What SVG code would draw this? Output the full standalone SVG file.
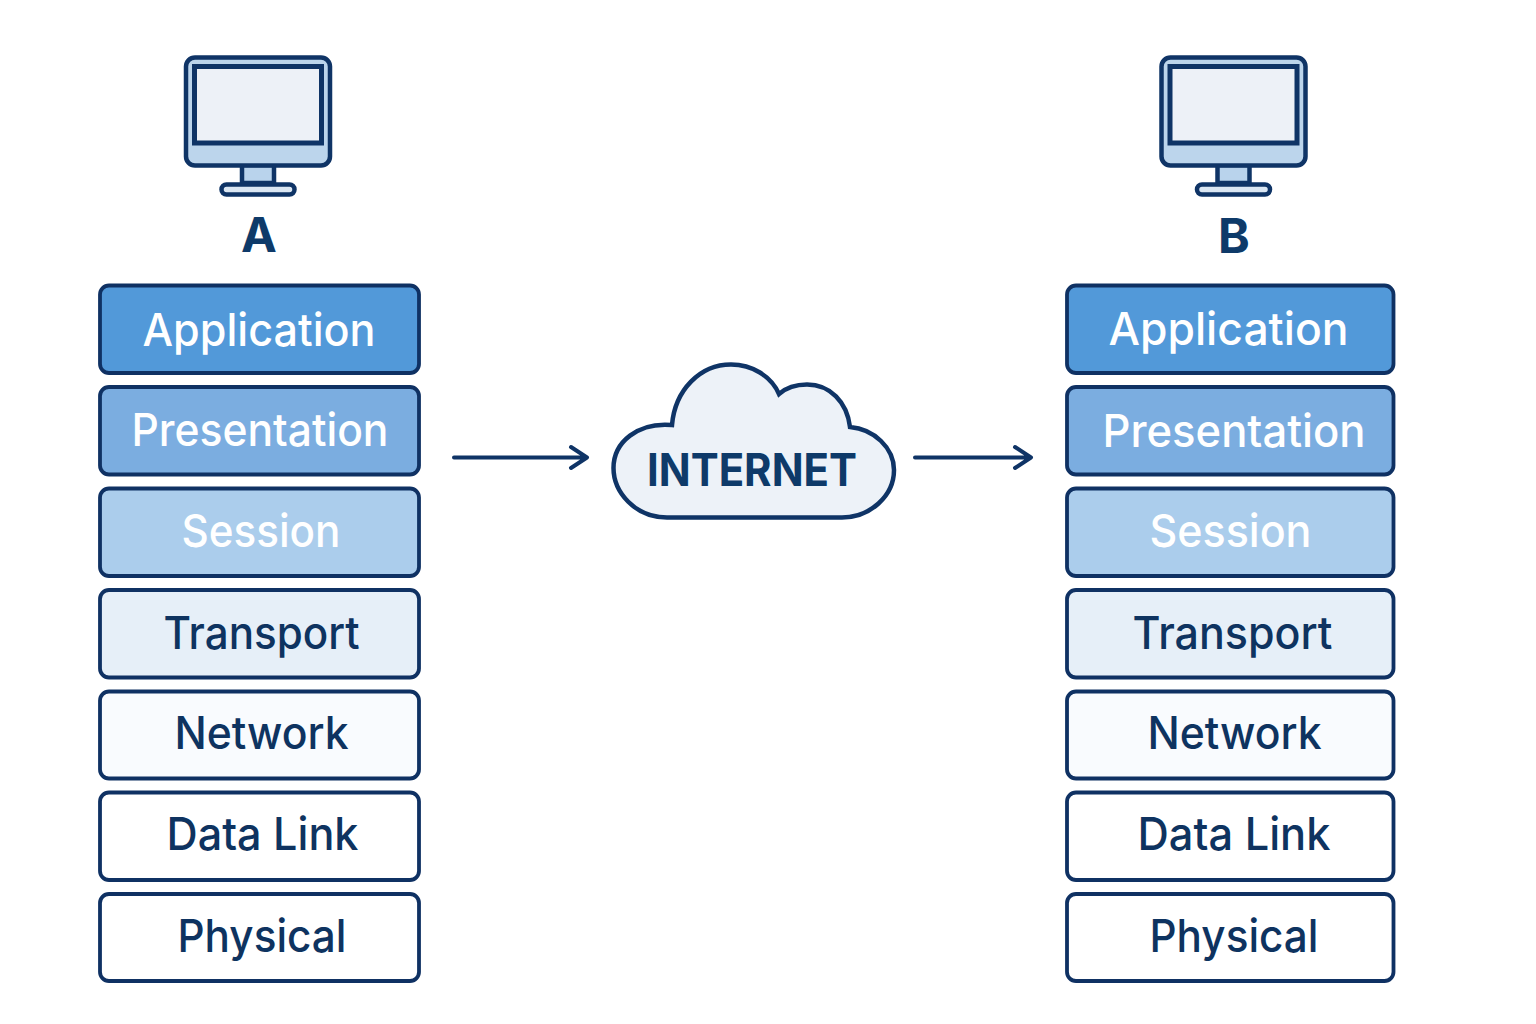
<svg xmlns="http://www.w3.org/2000/svg" width="1536" height="1024" viewBox="0 0 1536 1024">
<style>
.b{stroke:#0f3163;stroke-width:3.800}
.t{font-family:"Inter","Noto Sans",sans-serif;font-size:45px;font-weight:550;text-anchor:middle}
.w{fill:#fff}.d{fill:#0e3360}.s{fill:#edf2f8;stroke:#0f3466;stroke-width:4.500}
.h{font-family:"Inter","Noto Sans",sans-serif;font-weight:700;font-size:48px;fill:#0e3a69;text-anchor:middle}
.c{fill:none;stroke:#0f3466;stroke-width:4;stroke-linecap:round;stroke-linejoin:round}
</style>
<defs>
<g id="mon">
<rect x="242" y="165" width="32" height="18" fill="#b9d3ec" stroke="#0f3466" stroke-width="4.500"/>
<rect x="186" y="57.500" width="144" height="108" rx="9" fill="#bcd5ec" stroke="#0f3466" stroke-width="4.500"/>
<rect x="194.500" y="66.500" width="127" height="76.500" fill="#edf1f7" stroke="#0f3466" stroke-width="5"/>
<rect x="221.500" y="184.500" width="73" height="10" rx="5" fill="#dbe7f3" stroke="#0f3466" stroke-width="4.500"/>
</g>
</defs>
<rect width="1536" height="1024" fill="#fff"/>
<g id="host-a"><use href="#mon"/><text class="h" x="259" y="252">A</text></g>
<g id="host-b"><use href="#mon" x="975.500"/><text class="h" x="1234" y="253">B</text></g>
<g id="a-application"><rect class="b" x="100" y="285.500" width="319" height="87.500" rx="9" fill="#5299d9"/><text class="t w" x="259" y="346" textLength="233" lengthAdjust="spacingAndGlyphs">Application</text></g>
<g id="a-presentation"><rect class="b" x="100" y="387" width="319" height="87.500" rx="9" fill="#7bade0"/><text class="t w" x="260" y="446" textLength="257" lengthAdjust="spacingAndGlyphs">Presentation</text></g>
<g id="a-session"><rect class="b" x="100" y="488.500" width="319" height="87.500" rx="9" fill="#abcdec"/><text class="t w" x="261" y="547" textLength="159" lengthAdjust="spacingAndGlyphs">Session</text></g>
<g id="a-transport"><rect class="b" x="100" y="590" width="319" height="87.500" rx="9" fill="#e6eff8"/><text class="t d" x="261.500" y="649" textLength="196" lengthAdjust="spacingAndGlyphs">Transport</text></g>
<g id="a-network"><rect class="b" x="100" y="691.500" width="319" height="87" rx="9" fill="#f9fbfe"/><text class="t d" x="261.500" y="749" textLength="174" lengthAdjust="spacingAndGlyphs">Network</text></g>
<g id="a-datalink"><rect class="b" x="100" y="792.500" width="319" height="87.500" rx="9" fill="#fff"/><text class="t d" x="262.500" y="850" textLength="192" lengthAdjust="spacingAndGlyphs">Data Link</text></g>
<g id="a-physical"><rect class="b" x="100" y="894" width="319" height="87" rx="9" fill="#fff"/><text class="t d" x="262" y="952" textLength="169" lengthAdjust="spacingAndGlyphs">Physical</text></g>
<g id="b-application"><rect class="b" x="1067" y="285.500" width="326.500" height="87.500" rx="9" fill="#5299d9"/><text class="t w" x="1228.500" y="345" textLength="240" lengthAdjust="spacingAndGlyphs">Application</text></g>
<g id="b-presentation"><rect class="b" x="1067" y="387" width="326.500" height="87.500" rx="9" fill="#7bade0"/><text class="t w" x="1234" y="447" textLength="263" lengthAdjust="spacingAndGlyphs">Presentation</text></g>
<g id="b-session"><rect class="b" x="1067" y="488.500" width="326.500" height="87.500" rx="9" fill="#abcdec"/><text class="t w" x="1230.500" y="547" textLength="162" lengthAdjust="spacingAndGlyphs">Session</text></g>
<g id="b-transport"><rect class="b" x="1067" y="590" width="326.500" height="87.500" rx="9" fill="#e6eff8"/><text class="t d" x="1232.500" y="649" textLength="200" lengthAdjust="spacingAndGlyphs">Transport</text></g>
<g id="b-network"><rect class="b" x="1067" y="691.500" width="326.500" height="87" rx="9" fill="#f9fbfe"/><text class="t d" x="1234.500" y="749" textLength="174" lengthAdjust="spacingAndGlyphs">Network</text></g>
<g id="b-datalink"><rect class="b" x="1067" y="792.500" width="326.500" height="87.500" rx="9" fill="#fff"/><text class="t d" x="1234" y="850" textLength="193" lengthAdjust="spacingAndGlyphs">Data Link</text></g>
<g id="b-physical"><rect class="b" x="1067" y="894" width="326.500" height="87" rx="9" fill="#fff"/><text class="t d" x="1234" y="952" textLength="169" lengthAdjust="spacingAndGlyphs">Physical</text></g>
<g id="internet"><path class="s" d="M667 517.500C635 517.500 613.500 492 613.500 468C613.500 442 638 422 672 425C675 390 700 364.500 731 364.500C752 364.500 771 376 779 394C787 387 797 384.500 807 384.500C830 384.500 847 402 850 427C874 429 894 448 894 470C894 496 870 517.500 842 517.500Z"/><text class="h" x="752" y="486" style="font-size:45px;font-weight:650" textLength="210" lengthAdjust="spacingAndGlyphs">INTERNET</text></g>
<g id="connectors">
<path class="c" d="M454 457.500H587M571 447L587 457.500L571 468"/>
<path class="c" d="M915 457.500H1031M1015 447L1031 457.500L1015 468"/>
</g>
</svg>
